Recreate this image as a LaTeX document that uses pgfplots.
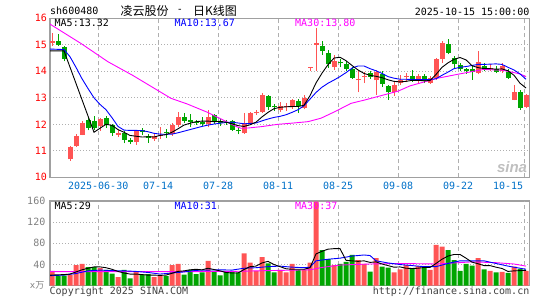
\documentclass[border=0pt]{standalone}
\usepackage{pgfplots}
\pgfplotsset{compat=1.18}
\usepackage{pgfplotstable}
\usepackage{fontspec}
\setmainfont{DejaVu Sans Mono}
\newfontfamily\mono{DejaVu Sans Mono}
\newfontfamily\cjk{Noto Sans CJK SC}
\newfontfamily\sinafont{Liberation Sans}
\newcommand\tf{\mono\fontsize{10}{12}\selectfont}
\definecolor{cred}{RGB}{255,84,84}
\definecolor{cgreen}{RGB}{0,165,0}
\definecolor{cblue}{RGB}{0,0,255}
\definecolor{cmag}{RGB}{255,0,255}
\definecolor{xlab}{RGB}{0,112,200}
\definecolor{framec}{RGB}{160,160,160}
\definecolor{gridc}{RGB}{175,175,175}

\pgfplotstableread{
i o h l c
0 15.07 15.44 14.95 15.13
3 10.68 11.17 10.62 11.13
4 11.17 11.62 11.15 11.57
5 11.61 12.11 11.58 12.06
8 11.92 12.22 11.75 12.20
11 11.60 11.80 11.52 11.68
14 11.33 11.78 11.23 11.74
17 11.45 11.66 11.38 11.56
18 11.55 11.91 11.45 11.59
20 11.65 12.04 11.57 11.97
21 11.97 12.45 11.91 12.29
26 12.00 12.53 11.88 12.28
32 11.66 12.42 11.64 12.03
33 12.04 12.48 12.00 12.42
34 12.41 12.55 12.36 12.45
35 12.47 13.18 12.42 13.09
38 12.55 12.84 12.48 12.70
39 12.64 12.80 12.50 12.68
40 12.64 12.95 12.58 12.90
42 12.62 13.10 12.56 13.00
43 14.12 14.16 14.01 14.15
44 15.00 15.62 14.02 15.07
47 14.15 14.60 14.05 14.37
51 13.66 14.00 13.20 13.70
52 13.79 13.98 13.55 13.83
54 13.66 14.06 13.12 13.99
57 13.20 13.58 13.08 13.48
58 13.56 13.86 13.50 13.68
59 13.78 13.93 13.58 13.82
61 13.62 13.90 13.55 13.84
63 13.57 13.84 13.53 13.75
64 13.75 14.51 13.69 14.45
65 14.45 15.14 14.32 15.08
71 13.94 14.76 13.88 14.35
73 14.08 14.27 14.00 14.12
75 14.00 14.32 13.94 14.19
77 12.93 13.50 12.90 13.20
79 12.65 13.15 12.60 13.12
}\upc

\pgfplotstableread{
i o h l c
1 15.13 15.42 14.95 15.00
2 14.92 14.94 14.37 14.47
6 12.15 12.27 11.77 11.86
7 12.11 12.30 11.77 11.86
9 12.25 12.30 11.87 11.98
10 11.99 12.02 11.57 11.66
12 11.67 11.75 11.28 11.41
13 11.42 11.48 11.25 11.33
15 11.78 11.85 11.61 11.71
16 11.57 11.65 11.31 11.50
19 11.72 11.81 11.47 11.67
22 12.29 12.42 12.04 12.13
23 12.16 12.39 11.91 12.10
24 12.10 12.16 11.98 12.04
25 12.08 12.29 11.92 12.02
27 12.35 12.37 12.03 12.08
28 12.12 12.20 11.95 12.06
29 12.08 12.15 11.98 12.04
30 12.12 12.16 11.74 11.80
31 11.78 11.91 11.62 11.73
36 13.08 13.12 12.55 12.64
37 12.69 12.78 12.50 12.64
41 12.88 12.97 12.42 12.68
45 14.97 15.14 14.62 14.75
46 14.70 14.82 14.12 14.28
48 14.36 14.48 14.15 14.30
49 14.28 14.38 14.02 14.10
50 14.08 14.18 13.70 13.75
53 13.93 14.02 13.70 13.79
55 13.88 14.00 13.40 13.52
56 13.46 13.50 12.92 13.20
60 13.84 14.06 13.60 13.72
62 13.81 13.88 13.55 13.63
66 15.02 15.21 14.64 14.70
67 14.51 14.57 14.13 14.26
68 14.22 14.32 14.00 14.10
69 14.07 14.14 13.90 14.02
70 14.07 14.20 13.69 13.97
72 14.19 14.30 14.03 14.07
74 14.10 14.20 13.92 13.97
76 13.97 14.07 13.71 13.75
78 13.20 13.31 12.55 12.61
}\dnc

\pgfplotstableread{
i v
0 28
3 20
4 39
5 41
8 33
11 16
14 26.5
17 16
18 20
20 39
21 41
26 47
32 61
33 43.5
34 28
35 54
38 30
39 25
40 41
42 30
43 43.5
44 159
47 39
51 48.5
52 41
54 52
57 25
58 31
59 39
61 37
63 30
64 77
65 74
71 52
73 28
75 26
77 36
79 28
}\volr

\pgfplotstableread{
i v
1 19
2 19
6 35
7 35
9 30
10 23
12 30
13 14
15 21
16 22
19 18
22 21
23 30
24 22
25 25
27 28
28 19.5
29 26.5
30 26.5
31 25
36 42
37 25
41 30
45 67
46 50
48 41
49 45
50 58
53 26.5
55 36
56 34
60 33
62 33
66 67
67 48.5
68 28
69 41
70 38
72 31
74 25
76 24
78 32
}\volg

\pgfplotsset{
  kframe/.style={
    scale only axis, anchor=south west,
    xmin=-0.3333, xmax=79.55,
    axis line style={draw=framec, line width=1.3pt},
    major tick length=0pt, tick style={draw=none},
    xmajorgrids, ymajorgrids,
    major x grid style={draw=gridc, line width=1.2pt, dash pattern=on 4pt off 3pt},
    major y grid style={draw=gridc, line width=1pt, dash pattern=on 1pt off 2pt},
    /pgf/number format/assume math mode=true,
    xtick={7.7,17.7,27.7,37.7,47.7,57.7,67.7},
    extra x ticks={78.7},
    extra x tick style={grid=major},
    ticklabel style={font=\tf},
  },
}

\begin{document}
\begin{tikzpicture}
\useasboundingbox (0pt,0pt) rectangle (545pt,300pt);

% ---------------- price panel ----------------
\begin{axis}[kframe,
  at={(50pt,122.7pt)}, width=479.3pt, height=159pt,
  ymin=10, ymax=16, ytick={10,11,...,16},
  yticklabel style={text=red, anchor=east, inner sep=0pt, xshift=-3pt},
  xticklabels={2025-06-30,07-14,07-28,08-11,08-25,09-08,09-22},
  extra x tick labels={10-15},
  xticklabel style={text=xlab, anchor=north, inner sep=0pt, yshift=-5pt},
  extra x tick style={grid=major, xticklabel style={xshift=-16pt}},
]
% wicks
\addplot[forget plot, cred, line width=1pt, -, mark=none,
  quiver={u=0, v=\thisrow{h}-\thisrow{l}}] table[x=i, y=l] {\upc};
\addplot[forget plot, cgreen, line width=1pt, -, mark=none,
  quiver={u=0, v=\thisrow{h}-\thisrow{l}}] table[x=i, y=l] {\dnc};
% bodies
\addplot[forget plot, cred, line width=5pt, -, mark=none,
  quiver={u=0, v=\thisrow{c}-\thisrow{o}}] table[x=i, y=o] {\upc};
\addplot[forget plot, cgreen, line width=5pt, -, mark=none,
  quiver={u=0, v=\thisrow{o}-\thisrow{c}}] table[x=i, y=c] {\dnc};

% MA30
\addplot[cmag, line width=0.9pt] coordinates {
(-0.33,15.78) (4.83,15.05) (9.33,14.36) (13.5,13.84) (19.83,12.98) (22.5,12.77)
(25.83,12.46) (29.17,12.09) (30.67,11.92) (31.5,11.85) (32.67,11.86) (34.83,11.91)
(37.67,12.0) (39.83,12.04) (42.67,12.10) (44.83,12.23) (47.17,12.48) (49.83,12.79)
(52.17,12.92) (54.83,13.08) (57.67,13.25) (59.67,13.45) (64.1,13.73) (67.45,13.88)
(71.9,14.07) (75.2,14.04) (78.0,13.90) (79,13.80)};
% MA10
\addplot[cblue, line width=0.9pt] coordinates {
(-0.33,14.84) (2,14.82) (3,14.55) (4,14.15) (5,13.72) (6,13.35) (7,13.0) (8,12.75)
(9,12.55) (10,12.25) (11,11.92) (12,11.78) (13,11.77) (14,11.77) (15,11.76) (16,11.72)
(17,11.66) (18,11.63) (19,11.62) (20,11.63) (21,11.68) (22,11.74) (23,11.80) (24,11.86)
(25,11.92) (26,11.97) (27,12.01) (28,12.04) (29,12.07) (30,12.08) (31,12.05) (32,12.02)
(33,12.03) (34,12.05) (35,12.13) (36,12.20) (37,12.26) (38,12.30) (39,12.36) (40,12.45)
(41,12.55) (42,12.70) (43,12.95) (44,13.20) (45,13.40) (46,13.55) (47,13.67) (48,13.80)
(49,13.95) (50,14.12) (51,14.20) (52,14.20) (53,14.10) (54,14.02) (55,13.92) (56,13.80)
(57,13.74) (58,13.70) (59,13.70) (60,13.69) (61,13.69) (62,13.69) (63,13.69) (64,13.72)
(65,13.85) (66,13.97) (67,14.10) (68,14.15) (69,14.18) (70,14.22) (71,14.26) (72,14.26)
(73,14.27) (74,14.28) (75,14.26) (76,14.15) (77,14.05) (78,13.90) (79,13.70)};
% MA5
\addplot[black, line width=0.9pt] coordinates {
(-0.33,14.77) (2,14.77) (7,11.70) (8,11.85) (9,12.0) (10,11.96) (11,11.8) (12,11.7)
(13,11.58) (14,11.55) (15,11.52) (16,11.53) (17,11.52) (18,11.58) (19,11.61) (20,11.70)
(21,11.83) (22,11.97) (23,12.04) (24,12.10) (25,12.12) (26,12.12) (27,12.10) (28,12.11)
(29,12.08) (30,12.02) (31,11.95) (32,11.92) (33,11.98) (34,12.08) (35,12.28) (36,12.45)
(37,12.59) (38,12.64) (39,12.66) (40,12.67) (41,12.67) (42,12.72) (43,13.08) (44,13.56)
(45,13.93) (46,14.25) (47,14.50) (48,14.53) (49,14.40) (50,14.22) (51,14.05) (52,13.92)
(53,13.85) (54,13.81) (55,13.76) (56,13.68) (57,13.62) (58,13.60) (59,13.62) (60,13.66)
(61,13.66) (62,13.64) (63,13.65) (64,13.88) (65,14.15) (66,14.32) (67,14.45) (68,14.52)
(69,14.43) (70,14.21) (71,14.14) (72,14.10) (73,14.10) (74,14.08) (75,14.09) (76,14.02)
(77,13.85) (78,13.55) (79,13.37)};
\end{axis}

% ---------------- volume panel ----------------
\begin{axis}[kframe,
  at={(50pt,14.3pt)}, width=479.3pt, height=84.7pt,
  ymin=0, ymax=160, ytick={40,80,120,160},
  yticklabel style={text=gray, anchor=east, inner sep=0pt, xshift=-4.5pt},
  xticklabels={}, extra x tick labels={},
]
\addplot[ybar, bar width=5pt, bar shift=0pt, fill=cred, draw=none, forget plot] table[x=i, y=v] {\volr};
\addplot[ybar, bar width=5pt, bar shift=0pt, fill=cgreen, draw=none, forget plot] table[x=i, y=v] {\volg};
\addplot[cmag, line width=0.9pt] coordinates {
(-0.33,26.5) (10,26.5) (20,26.5) (30,27) (36,28.5) (43,30) (45,34.5) (48,39) (53,41)
(58,42) (64,41) (70,45) (74,43.5) (77,41) (79,37)};
\addplot[cblue, line width=0.9pt] coordinates {
(-0.33,19) (2,20) (4,23) (6,28) (8,29.5) (10,28.5) (12,28) (14,27) (16,25) (18,22)
(20,24) (22,26) (24,29) (26,29.5) (28,30) (30,29.5) (32,33) (34,34) (36,36) (38,37)
(40,35) (42,34) (43,35) (44,47) (46,50) (48,52) (50,56) (52,58) (53,57) (54,47)
(56,43) (58,40) (60,38) (62,36) (64,36) (66,42) (68,47) (70,47) (72,47) (74,42)
(76,37) (78,33) (79,31)};
\addplot[black, line width=0.9pt] coordinates {
(-0.33,20) (2,21) (3,22) (4,26) (5,30) (6,33) (7,35.5) (8,35.5) (9,34) (10,31) (11,27)
(12,24) (13,22) (14,22) (15,21) (16,20) (17,20) (18,19.5) (19,20) (20,23.5) (21,27)
(22,28) (23,30) (24,31) (25,30) (26,33) (27,30.5) (28,28) (29,25) (30,24) (31,24)
(32,30.5) (33,36) (34,37) (35,43) (36,46) (37,40) (38,36) (39,32) (40,31) (41,31)
(42,31) (43,34) (44,60) (45,65) (46,69) (47,70) (48,70) (49,48) (50,47) (51,46)
(52,47) (53,44) (54,45) (55,41) (56,38) (57,35) (58,35.5) (59,33) (60,32.5) (61,33)
(62,34.5) (63,34.5) (64,42) (65,50) (66,56) (67,59) (68,59) (69,52) (70,44.5)
(71,41.5) (72,38) (73,38) (74,35) (75,32.5) (76,27) (77,28) (78,28.5) (79,29)};
\end{axis}

% ---------------- texts ----------------
\node[anchor=west, inner sep=0pt, font=\tf] at (50pt,289pt) {sh600480};
\node[anchor=west, inner sep=0pt, font=\cjk\fontsize{12}{14}\selectfont] at (120.5pt,289pt) {凌云股份};
\node[inner sep=0pt, font=\tf] at (180pt,289pt) {-};
\node[anchor=west, inner sep=0pt, font=\cjk\fontsize{12}{14}\selectfont] at (193pt,289pt) {日K线图};
\node[anchor=east, inner sep=0pt, font=\tf] at (529.5pt,288.5pt) {2025-10-15 15:00:00};

\node[anchor=west, inner sep=0pt, font=\tf] at (54.5pt,277pt) {MA5:13.32};
\node[anchor=west, inner sep=0pt, font=\tf, text=cblue] at (174.5pt,277pt) {MA10:13.67};
\node[anchor=west, inner sep=0pt, font=\tf, text=cmag] at (295pt,277pt) {MA30:13.80};

\node[anchor=west, inner sep=0pt, font=\tf] at (54.5pt,94pt) {MA5:29};
\node[anchor=west, inner sep=0pt, font=\tf, text=cblue] at (174.5pt,94pt) {MA10:31};
\node[anchor=west, inner sep=0pt, font=\tf, text=cmag] at (295pt,94pt) {MA30:37};

\node[anchor=east, inner sep=0pt, text=gray, font=\mono\fontsize{9}{10}\selectfont] at (44.5pt,14.5pt) {x\cjk 万};
\node[anchor=west, inner sep=0pt, text=black!75, font=\tf] at (49.5pt,8pt) {Copyright 2025 SINA.COM};
\node[anchor=east, inner sep=0pt, text=black!75, font=\tf] at (529.5pt,8pt) {http://finance.sina.com.cn};

\node[inner sep=0pt, text=black!25, font=\sinafont\bfseries\itshape\fontsize{15}{16}\selectfont] at (512pt,133pt) {sina};
\end{tikzpicture}
\end{document}
